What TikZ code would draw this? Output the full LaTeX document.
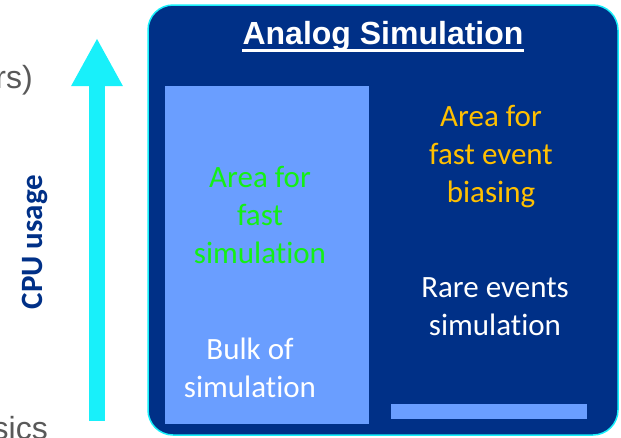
\documentclass[tikz,border=0pt]{standalone}
\usepackage{fontspec}
\setmainfont[Ligatures={NoCommon}]{Carlito}
\newfontfamily\arialfont{Liberation Sans}
\usetikzlibrary{positioning, arrows.meta}

\definecolor{simblue}{RGB}{0,48,135}
\definecolor{bulkblue}{RGB}{106,158,255}
\definecolor{cpucyan}{RGB}{24,240,250}
\definecolor{fastgreen}{RGB}{20,240,20}
\definecolor{biasorange}{RGB}{255,192,0}
\definecolor{slidegrey}{RGB}{89,89,89}

\begin{document}
\begin{tikzpicture}[x=1pt, y=-1pt,
      every node/.style={font=\fontsize{31}{38}\selectfont, align=center, inner sep=0pt},
      panel/.style={draw=cpucyan, line width=1.5pt, fill=simblue, rounded corners=25pt},
      area/.style={fill=bulkblue},
      txt/.style={text=white, anchor=base},
      cut/.style={font=\arialfont\fontsize{32}{38}\selectfont, text=slidegrey, anchor=base east},
      usage/.style={-{Triangle[length=48pt, width=48pt]}, line width=16pt, draw=cpucyan},
  ]
    \useasboundingbox (0,0) rectangle (621,437);

    % slide text cut off at the left
    \node[cut] (rs)   at (33,88)  {rs)};
    \node[cut] (sics) at (48,439) {sics};

    % CPU arrow
    \coordinate (cpubot) at (97,421);
    \coordinate (cputop) at (97,38);
    \draw[usage] (cpubot) -- (cputop);
    \node[text=simblue, font=\bfseries\fontsize{31}{38}\selectfont, rotate=90, anchor=base]
      (cpu) at (42,242) {CPU usage};

    % panel
    \node[panel, minimum width=470pt, minimum height=430pt] (sim) at (383,220) {};
    \node[txt, font=\arialfont\bfseries\fontsize{32}{38}\selectfont] (title) at (383,44) {Analog Simulation};
    \draw[white, line width=3pt] ([yshift=-6pt]title.base west) -- ([yshift=-6pt]title.base east);

    \node[area, minimum width=204pt, minimum height=338pt] (bulk) at (267,255) {};
    \node[area, minimum width=196pt, minimum height=15pt] (rare) at (489,411.5) {};

    % base = last line
    \node[txt, text=fastgreen] (fast) at (260,263) {Area for\\fast\\simulation};
    \node[txt, text=biasorange] (bias) at (491,202) {Area for\\fast event\\biasing};
    \node[txt] (raretxt) at (495,335) {Rare events\\simulation};
    \node[txt] (bulktxt) at (250,397) {Bulk of\\simulation};
\end{tikzpicture}
\end{document}
